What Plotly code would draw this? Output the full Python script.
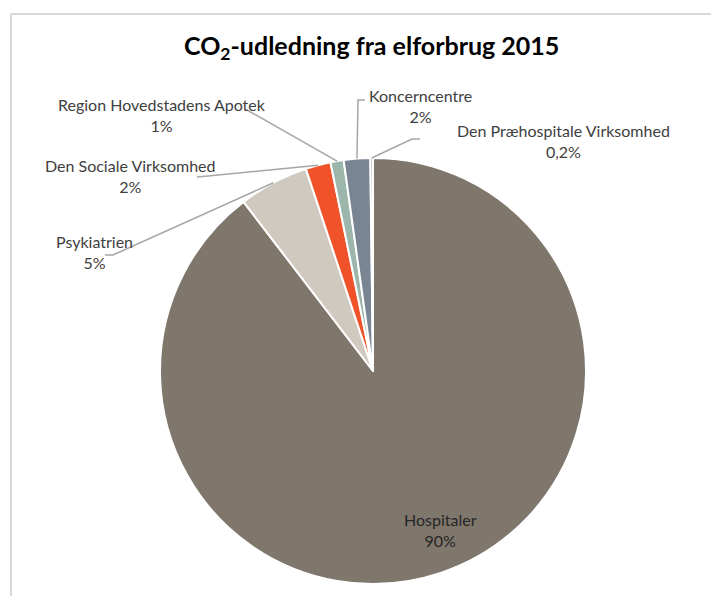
import math
import plotly.graph_objects as go

# ---- data ----
categories = ["Hospitaler", "Psykiatrien", "Den Sociale Virksomhed",
              "Region Hovedstadens Apotek", "Koncerncentre",
              "Den Præhospitale Virksomhed"]
values = [89.6, 5.3, 1.9, 1.0, 2.0, 0.2]
pct_labels = ["90%", "5%", "2%", "1%", "2%", "0,2%"]
colors = ["#7f766c", "#d0c9bf", "#f0522a", "#9cb6ac", "#7a8594", "#b8b0a6"]

# ---- layout constants ----
W, H = 711, 596
CX, CY, R = 373, 371, 213
label_font = dict(family="Lato, Open Sans, sans-serif", size=16, color="#404040")

# label centre (px) for each category
label_pos = {
    "Hospitaler": (440, 530),
    "Psykiatrien": (95, 252),
    "Den Sociale Virksomhed": (130, 176),
    "Region Hovedstadens Apotek": (162, 115),
    "Koncerncentre": (421, 106),
    "Den Præhospitale Virksomhed": (563, 141),
}
leader_start = {
    "Psykiatrien": [(105, 255), (113, 255)],
    "Den Sociale Virksomhed": [(197, 177), (208, 176)],
    "Region Hovedstadens Apotek": [(247, 110)],
    "Koncerncentre": [(365, 100), (358, 100)],
    "Den Præhospitale Virksomhed": [(420, 139), (412, 139)],
}

def px(x):
    return x / W

def py(y):
    return 1 - y / H

fig = go.Figure()
fig.add_trace(go.Pie(
    labels=categories, values=values, sort=False, direction="clockwise",
    rotation=0, marker=dict(colors=colors, line=dict(color="white", width=2)),
    textinfo="none", hoverinfo="label+percent", showlegend=False,
    domain=dict(x=[px(CX - R), px(CX + R)], y=[py(CY + R), py(CY - R)]),
))

total = sum(values)
cum = 0.0
shapes = []
annotations = []
for cat, v, lab in zip(categories, values, pct_labels):
    mid = (cum + v / 2) / total * 2 * math.pi
    cum += v
    lx, ly = label_pos[cat]
    fnt = dict(label_font)
    if cat == "Hospitaler":
        fnt["color"] = "#262626"
    annotations.append(dict(
        x=px(lx), y=py(ly), xref="paper", yref="paper", showarrow=False,
        text=f"{cat}<br>{lab}", font=fnt, align="center",
        xanchor="center", yanchor="middle"))
    if cat in leader_start:
        ex = CX + R * math.sin(mid)
        ey = CY - R * math.cos(mid)
        pts = leader_start[cat] + [(ex, ey)]
        path = "M " + " L ".join(f"{px(x)},{py(y)}" for x, y in pts)
        shapes.append(dict(type="path", path=path, xref="paper", yref="paper",
                           line=dict(color="#a6a6a6", width=1.5)))

# chart frame (left and top edges visible)
shapes.append(dict(type="path", xref="paper", yref="paper",
                   path=f"M {px(11)},{py(600)} L {px(11)},{py(14)} L {px(715)},{py(14)}",
                   line=dict(color="#d9d9d9", width=2)))

annotations.append(dict(
    x=px(371), y=py(47), xref="paper", yref="paper", showarrow=False,
    text="<b>CO<sub>2</sub>-udledning fra elforbrug 2015</b>",
    font=dict(family="Lato, Open Sans, sans-serif", size=25, color="#000000"),
    xanchor="center", yanchor="middle"))

fig.update_layout(
    width=W, height=H, margin=dict(l=0, r=0, t=0, b=0),
    paper_bgcolor="white", plot_bgcolor="white",
    shapes=shapes, annotations=annotations,
)
fig.write_html("out.html")
